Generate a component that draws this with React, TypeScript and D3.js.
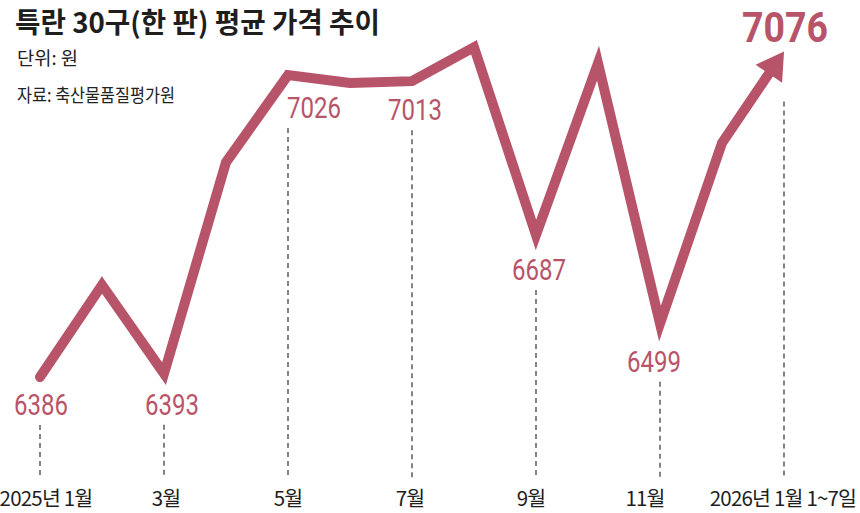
import React from "react";
import * as d3 from "d3";

const months = ["2025-01","2025-02","2025-03","2025-04","2025-05","2025-06","2025-07","2025-08","2025-09","2025-10","2025-11","2025-12","2026-01"];
const prices = [6386, 6581, 6393, 6841, 7026, 7009, 7013, 7085, 6687, 7051, 6499, 6882, 7076];
const labeledIdx = [0, 2, 4, 6, 8, 10, 12];
const tickIdx = [0, 2, 4, 6, 8, 10, 12];
const tickLabels = ["2025년 1월", "3월", "5월", "7월", "9월", "11월", "2026년 1월 1~7일"];

// layout (not data)
const labelDx = [1, 8, 26, 3, 3, -6, 1];
const labelDy = [38, 41, 43, 39, 45, 48, -9];
const tickDx = [6, 2, 0, -2, -5, -15, -1];
const W = 860, H = 513;
const RED = "#b8546a";
const KR = "'Noto Sans CJK KR', 'Noto Sans', sans-serif";
const NUM = "Roboto, 'Liberation Sans', sans-serif";

export default function App() {
  const x = d3.scaleLinear().domain([0, months.length - 1]).range([40, 784]);
  const y = d3.scaleLinear().domain([6386, 7026]).range([377, 75]);

  const pts: [number, number][] = prices.map((v, i) => [x(i), y(v)]);
  const n = pts.length;
  const tip = pts[n - 1];
  const prev = pts[n - 2];
  const dxv = tip[0] - prev[0], dyv = tip[1] - prev[1];
  const len = Math.hypot(dxv, dyv);
  const ux = dxv / len, uy = dyv / len;
  const aLen = 27, aHalf = 16;
  const base: [number, number] = [tip[0] - ux * aLen, tip[1] - uy * aLen];
  const linePts = [...pts.slice(0, n - 1), [base[0] + ux * 3, base[1] + uy * 3] as [number, number]];
  const path = d3.line()(linePts) || "";
  const arrow = [
    tip,
    [base[0] - uy * aHalf, base[1] + ux * aHalf],
    [base[0] + uy * aHalf, base[1] - ux * aHalf],
  ].map((p) => p.join(",")).join(" ");

  const bottom = 478;

  return (
    <svg width={W} height={H} style={{ position: "absolute", left: 0, top: 0, background: "#fff" }}>
      <rect width={W} height={H} fill="#fff" />
      <text x={15} y={33} fontFamily={KR} fontWeight={700} fontSize={28} fill="#1e1e1e" textLength={365} lengthAdjust="spacingAndGlyphs">
        특란 30구(한 판) 평균 가격 추이
      </text>
      <text x={17} y={65} fontFamily={KR} fontSize={18.5} fill="#222" textLength={61} lengthAdjust="spacingAndGlyphs">
        단위: 원
      </text>
      <text x={17} y={102} fontFamily={KR} fontSize={18} fill="#222" textLength={158} lengthAdjust="spacingAndGlyphs">
        자료: 축산물품질평가원
      </text>

      {labeledIdx.map((i, k) => {
        const top = i === n - 1 ? y(prices[i]) + 50 : y(prices[i]) + labelDy[k] + 10;
        return (
          <line key={"d" + i} x1={x(i)} x2={x(i)} y1={top} y2={bottom} stroke="#333" strokeWidth={1.2} strokeDasharray="5,4" />
        );
      })}

      <path d={path} fill="none" stroke={RED} strokeWidth={10} strokeLinejoin="miter" strokeMiterlimit={20} strokeLinecap="round" />
      <polygon points={arrow} fill={RED} />

      {labeledIdx.map((i, k) => {
        const last = i === n - 1;
        return (
          <text
            key={"l" + i}
            x={x(i) + labelDx[k]}
            y={y(prices[i]) + labelDy[k]}
            textAnchor="middle"
            fontFamily={NUM}
            fontWeight={last ? 700 : 400}
            fontSize={last ? 43 : 30}
            fill={RED}
            textLength={last ? 86 : 54}
            lengthAdjust="spacingAndGlyphs"
          >
            {prices[i]}
          </text>
        );
      })}

      {tickIdx.map((i, k) => (
        <text key={"t" + i} x={x(i) + tickDx[k]} y={506} textAnchor="middle" fontFamily={KR} fontSize={20.5} fill="#1e1e1e" letterSpacing={-0.8}>
          {tickLabels[k]}
        </text>
      ))}
    </svg>
  );
}
